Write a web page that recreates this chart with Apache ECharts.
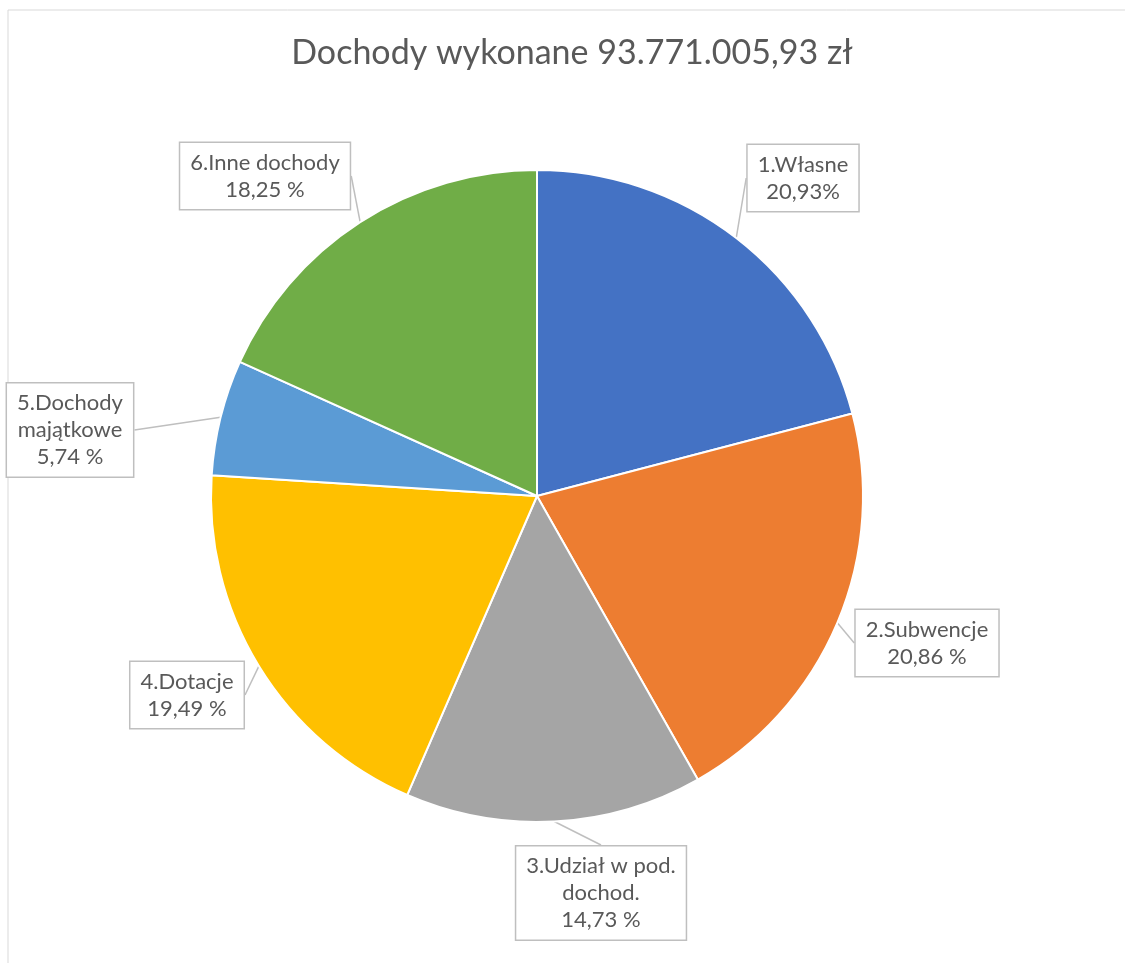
<!DOCTYPE html>
<html>
<head>
<meta charset="utf-8">
<script src="https://cdn.jsdelivr.net/npm/echarts@6/dist/echarts.min.js"></script>
<style>
  html, body { margin: 0; padding: 0; background: #fff; }
  #chart-container { width: 1125px; height: 963px; }
</style>
</head>
<body>
<div id="chart-container"></div>
<script>
const titleText = "Dochody wykonane 93.771.005,93 zł"
const categories = [
  "1.Własne",
  "2.Subwencje",
  "3.Udział w pod.\ndochod.",
  "4.Dotacje",
  "5.Dochody\nmajątkowe",
  "6.Inne dochody"
]
const shares = [20.93, 20.86, 14.73, 19.49, 5.74, 18.25]
const shareLabels = ["20,93%", "20,86 %", "14,73 %", "19,49 %", "5,74 %", "18,25 %"]
const colors = ["#4472C4", "#ED7D31", "#A5A5A5", "#FFC000", "#5B9BD5", "#70AD47"]

// where the callout boxes sit (center of box)
const labelSpots = [
  [803, 178],
  [927, 643],
  [601, 893],
  [187, 695],
  [70, 430],
  [265, 176]
]

var dom = document.getElementById("chart-container")
var myChart = echarts.init(dom, null, { renderer: "canvas" })

const fontFamily = "Lato, 'Open Sans', sans-serif"

var option = {
  animation: false,
  color: colors,
  graphic: [
    {
      type: "rect",
      shape: { x: 8, y: 10, width: 1140, height: 1000 },
      style: { fill: "none", stroke: "#d9d9d9", lineWidth: 1 },
      silent: true
    }
  ],
  title: {
    text: titleText,
    left: 567,
    top: 31,
    textAlign: "center",
    textStyle: {
      fontFamily,
      fontSize: 34,
      fontWeight: "normal",
      color: "#595959"
    }
  },
  series: [
    {
      type: "pie",
      center: [537, 496],
      radius: [0, 326],
      startAngle: 90,
      clockwise: true,
      avoidLabelOverlap: false,
      itemStyle: { borderColor: "#fff", borderWidth: 2 },
      label: {
        show: true,
        position: "outside",
        formatter: (p) => `${p.name}\n${shareLabels[p.dataIndex]}`,
        fontFamily,
        fontSize: 22,
        lineHeight: 27,
        color: "#595959",
        align: "center",
        backgroundColor: "#fff",
        borderColor: "#bfbfbf",
        borderWidth: 1.5,
        padding: [6, 10]
      },
      labelLine: {
        show: true,
        length: 0,
        length2: 0,
        lineStyle: { color: "#bfbfbf", width: 1.5 }
      },
      labelLayout: (params) => {
        const spot = labelSpots[params.dataIndex]
        return {
          x: spot[0],
          y: spot[1],
          align: "center",
          verticalAlign: "middle"
        }
      },
      emphasis: { disabled: true },
      data: categories.map((name, i) => ({ name, value: shares[i] }))
    }
  ]
}

myChart.setOption(option)
window.addEventListener("resize", myChart.resize)
</script>
</body>
</html>
